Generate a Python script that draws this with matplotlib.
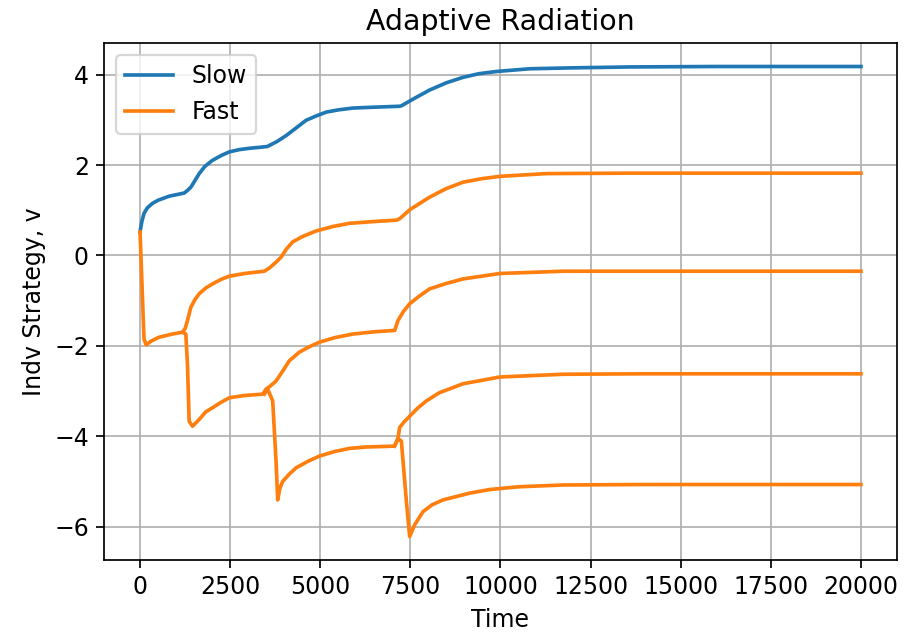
import matplotlib
matplotlib.use("Agg")
import matplotlib.pyplot as plt

# Slow species (single lineage)
slow_t = [0, 50, 111, 200, 342, 500, 807, 1050, 1224, 1320, 1410, 1520, 1641, 1800,
          2003, 2250, 2475, 2750, 3031, 3300, 3532, 3800, 4051, 4330, 4607, 4900,
          5163, 5500, 5897, 6500, 7200, 7250, 7600, 8036, 8500, 8960, 9400, 9891,
          10818, 12000, 13600, 16000, 20000]
slow_v = [0.52, 0.75, 0.93, 1.05, 1.15, 1.22, 1.31, 1.35, 1.38, 1.44, 1.51, 1.65, 1.81, 1.97,
          2.10, 2.21, 2.29, 2.34, 2.37, 2.39, 2.41, 2.52, 2.65, 2.82, 2.99, 3.09,
          3.17, 3.22, 3.26, 3.28, 3.30, 3.31, 3.47, 3.66, 3.82, 3.94, 4.02, 4.07,
          4.13, 4.15, 4.17, 4.18, 4.18]

# Fast species lineages (each branches off the previous one)
fast1_t = [0, 110, 170, 300, 528, 899, 1177, 1250, 1316, 1409, 1520, 1641, 1826, 2012,
           2250, 2475, 2900, 3449, 3587, 3773, 3912, 4051, 4236, 4514, 4885, 5348,
           5813, 6500, 7111, 7200, 7500, 8036, 8500, 8962, 9500, 9986, 11283, 13600, 20000]
fast1_v = [0.52, -1.85, -1.98, -1.90, -1.81, -1.74, -1.70, -1.62, -1.44, -1.15, -0.98, -0.85, -0.72, -0.63,
           -0.53, -0.46, -0.40, -0.35, -0.28, -0.15, -0.04, 0.13, 0.30, 0.42, 0.54, 0.64,
           0.71, 0.75, 0.78, 0.81, 1.02, 1.29, 1.48, 1.62, 1.70, 1.75, 1.81, 1.82, 1.82]

fast2_t = [1177, 1270, 1316, 1363, 1455, 1530, 1641, 1826, 2012, 2250, 2475, 2900, 3402,
           3495, 3600, 3773, 3958, 4143, 4422, 4700, 4978, 5400, 5905, 6500, 7065, 7157,
           7300, 7480, 7750, 8036, 8500, 8962, 9986, 11745, 14000, 20000]
fast2_v = [-1.70, -1.74, -2.41, -3.67, -3.78, -3.72, -3.63, -3.46, -3.37, -3.25, -3.15, -3.10, -3.07,
           -2.96, -2.90, -2.78, -2.56, -2.33, -2.14, -2.02, -1.92, -1.82, -1.74, -1.69, -1.66, -1.44,
           -1.25, -1.07, -0.90, -0.74, -0.62, -0.52, -0.40, -0.35, -0.35, -0.35]

fast3_t = [3448, 3541, 3680, 3773, 3819, 3880, 3958, 4140, 4329, 4650, 4978, 5400, 5812,
           6275, 7063, 7155, 7202, 7330, 7480, 7700, 7944, 8300, 8962, 9986, 11745, 14000, 20000]
fast3_v = [-3.07, -2.96, -3.22, -4.55, -5.41, -5.15, -5.00, -4.84, -4.70, -4.56, -4.44, -4.34, -4.27,
           -4.24, -4.22, -4.05, -3.81, -3.68, -3.56, -3.38, -3.22, -3.04, -2.84, -2.69, -2.63, -2.62, -2.62]

fast4_t = [7063, 7155, 7250, 7389, 7480, 7620, 7851, 8100, 8406, 9149, 9705, 10500, 11745, 14000, 20000]
fast4_v = [-4.22, -4.05, -4.11, -5.44, -6.22, -5.96, -5.67, -5.52, -5.41, -5.26, -5.18, -5.12, -5.08, -5.07, -5.07]

DPI = 155
plt.rcParams["font.size"] = 11
plt.rcParams["lines.linewidth"] = 1.7

fig, ax = plt.subplots(figsize=(909 / DPI, 636 / DPI), dpi=DPI)
fig.subplots_adjust(left=0.1144, right=0.9868, bottom=0.1195, top=0.9324)

ax.plot(slow_t, slow_v, color="C0", label="Slow")
ax.plot(fast1_t, fast1_v, color="C1", label="Fast")
for t, v in [(fast2_t, fast2_v), (fast3_t, fast3_v), (fast4_t, fast4_v)]:
    ax.plot(t, v, color="C1")

ax.set_xlabel("Time")
ax.set_ylabel("Indv Strategy, v")
ax.set_title("Adaptive Radiation")
ax.grid(True)
ax.legend(loc="upper left")

fig.savefig("out.png", dpi=DPI)
